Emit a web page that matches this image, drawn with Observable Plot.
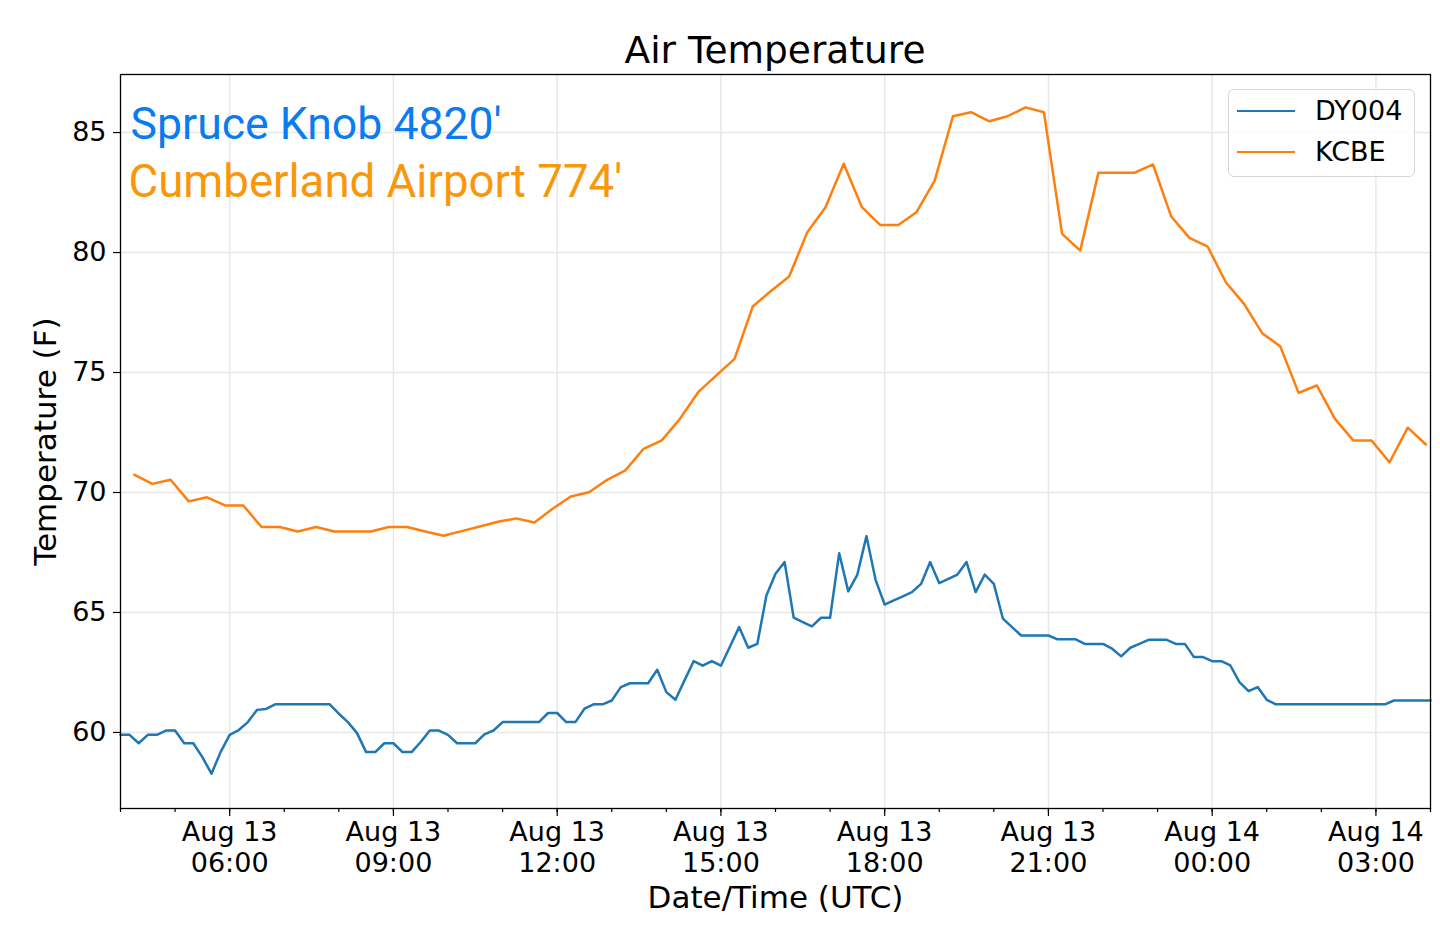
<!DOCTYPE html>
<html>
<head>
<meta charset="utf-8">
<script src="https://cdn.jsdelivr.net/npm/d3@7"></script>
<script src="https://cdn.jsdelivr.net/npm/@observablehq/plot@0.6"></script>
<style>
  html, body { margin: 0; padding: 0; background: #fff; }
  #wrap { position: relative; width: 1440px; height: 936px; overflow: hidden; }
  #title { position: absolute; z-index: 3; left: 120px; width: 1310px; top: 31px; text-align: center;
           font-family: "DejaVu Sans", sans-serif; font-size: 37.5px; line-height: 38px; color: #000; }
  #chart { position: absolute; z-index: 1; left: 0; top: 60px; }
  #legend { position: absolute; z-index: 2; left: 1228px; top: 89px; width: 187px; height: 88px; box-sizing: border-box;
            border: 1.5px solid #d6d6d6; border-radius: 6px; background: rgba(255,255,255,0.85);
            font-family: "DejaVu Sans", sans-serif; font-size: 27px; color: #000; }
  .row { position: absolute; left: 0; height: 30px; }
  .sw { position: absolute; left: 8px; width: 58px; height: 0; border-top: 2.5px solid; }
  .lab { position: absolute; left: 86px; line-height: 30px; white-space: nowrap; }
</style>
</head>
<body>
<div id="wrap">
  <div id="title"></div>
  <div id="chart"></div>
  <div id="legend"></div>
</div>
<script>
// ---- data ----
const chartTitle = "Air Temperature";
const xLabel = "Date/Time (UTC)";
const yLabel = "Temperature (F)";
const seriesNames = ["DY004", "KCBE"];
const seriesColors = ["#1f77b4", "#ff7f0e"];
const annotations = ["Spruce Knob 4820'", "Cumberland Airport 774'"];
const annotationColors = ["#0a7cf2", "#fa960a"];

// DY004: every 10 minutes from 2019-08-13 04:00 UTC
const dyStart = "2019-08-13T04:00:00Z";
const dyStepMinutes = 10;
const dyTemps = [
  59.9, 59.9, 59.55, 59.9, 59.9, 60.08,
  60.08, 59.55, 59.55, 58.97, 58.28, 59.18,
  59.9, 60.1, 60.43, 60.94, 60.98, 61.17,
  61.17, 61.17, 61.17, 61.17, 61.17, 61.17,
  60.78, 60.43, 59.97, 59.18, 59.18, 59.55,
  59.55, 59.18, 59.18, 59.6, 60.08, 60.08,
  59.9, 59.55, 59.55, 59.55, 59.92, 60.08,
  60.43, 60.43, 60.43, 60.43, 60.43, 60.81,
  60.81, 60.43, 60.43, 60.99, 61.17, 61.17,
  61.33, 61.89, 62.05, 62.05, 62.05, 62.61,
  61.68, 61.36, 62.17, 62.97, 62.78, 62.97,
  62.78, 63.58, 64.39, 63.53, 63.69, 65.71,
  66.61, 67.1, 64.78, 64.6, 64.42, 64.78,
  64.78, 67.47, 65.88, 66.58, 68.18, 66.36,
  65.33, 65.5, 65.67, 65.85, 66.19, 67.1,
  66.22, 66.4, 66.58, 67.1, 65.85, 66.58,
  66.19, 64.74, 64.39, 64.04, 64.04, 64.04,
  64.04, 63.88, 63.88, 63.88, 63.69, 63.69,
  63.69, 63.49, 63.17, 63.53, 63.69, 63.86,
  63.86, 63.86, 63.69, 63.69, 63.14, 63.14,
  62.97, 62.97, 62.79, 62.1, 61.72, 61.89,
  61.36, 61.17, 61.17, 61.17, 61.17, 61.17,
  61.17, 61.17, 61.17, 61.17, 61.17, 61.17,
  61.17, 61.17, 61.33, 61.33, 61.33, 61.33,
  61.33
];

// KCBE: every 20 minutes from 2019-08-13 04:15 UTC
const kcStart = "2019-08-13T04:15:00Z";
const kcStepMinutes = 20;
const kcTemps = [
  70.74, 70.36, 70.53,
  69.63, 69.8, 69.46,
  69.46, 68.56, 68.56,
  68.375, 68.56, 68.375,
  68.375, 68.375, 68.56,
  68.56, 68.375, 68.2,
  68.39, 68.58, 68.78,
  68.92, 68.75, 69.32,
  69.83, 70.01, 70.53,
  70.92, 71.82, 72.17,
  73.07, 74.18, 74.88,
  75.57, 77.75, 78.4,
  79.0, 80.85, 81.89,
  83.7, 81.89, 81.15,
  81.15, 81.68, 83.0,
  85.68, 85.85, 85.47,
  85.68, 86.05, 85.85,
  80.78, 80.08, 83.33,
  83.33, 83.33, 83.67,
  81.5, 80.61, 80.25,
  78.76, 77.86, 76.64,
  76.08, 74.15, 74.46,
  73.07, 72.17, 72.17,
  71.26, 72.7, 72.0
];

const xDomain = ["2019-08-13T04:00:00Z", "2019-08-14T04:00:00Z"];
const yDomain = [56.83, 87.42];
const yTicks = [60, 65, 70, 75, 80, 85];
const xTickTimes = ["2019-08-13T06:00:00Z", "2019-08-13T09:00:00Z", "2019-08-13T12:00:00Z", "2019-08-13T15:00:00Z",
                    "2019-08-13T18:00:00Z", "2019-08-13T21:00:00Z", "2019-08-14T00:00:00Z", "2019-08-14T03:00:00Z"];
const xTickLabels = ["Aug 13\n06:00", "Aug 13\n09:00", "Aug 13\n12:00", "Aug 13\n15:00",
                     "Aug 13\n18:00", "Aug 13\n21:00", "Aug 14\n00:00", "Aug 14\n03:00"];

// ---- build tables ----
const t0dy = new Date(dyStart).getTime();
const t0kc = new Date(kcStart).getTime();
const dyRows = dyTemps.map((v, i) => ({time: new Date(t0dy + i * dyStepMinutes * 60000), temp: v}));
const kcRows = kcTemps.map((v, i) => ({time: new Date(t0kc + i * kcStepMinutes * 60000), temp: v}));
const xMajor = xTickTimes.map(s => new Date(s));
const xDom = xDomain.map(s => new Date(s));
const xMinor = d3.utcHour.range(xDom[0], new Date(xDom[1].getTime() + 1));
const labelOf = new Map(xMajor.map((d, i) => [d.getTime(), xTickLabels[i]]));

document.getElementById("title").textContent = chartTitle;

const grid = {stroke: "#e8e8e8", strokeOpacity: 1, strokeWidth: 1.5};

const chart = Plot.plot({
  width: 1440,
  height: 876,
  marginLeft: 120,
  marginRight: 10,
  marginTop: 14,
  marginBottom: 128,
  style: {fontFamily: "DejaVu Sans, sans-serif", fontSize: "27px", color: "#000", background: "transparent"},
  x: {type: "utc", domain: xDom},
  y: {domain: yDomain},
  marks: [
    Plot.gridX(xMajor, grid),
    Plot.gridY(yTicks, grid),
    Plot.lineY(dyRows, {x: "time", y: "temp", stroke: seriesColors[0], strokeWidth: 2.5}),
    Plot.lineY(kcRows, {x: "time", y: "temp", stroke: seriesColors[1], strokeWidth: 2.5}),
    Plot.frame({stroke: "#000", strokeWidth: 1.3}),
    Plot.axisY(yTicks, {tickSize: 7, tickPadding: 7, fontSize: 27, label: null, stroke: "#000", strokeWidth: 1.2}),
    Plot.axisX(xMinor, {tickSize: 4, tickFormat: () => "", label: null, stroke: "#000", strokeWidth: 1.2}),
    Plot.axisX(xMajor, {tickSize: 8, tickPadding: 2, fontSize: 27, lineHeight: 1.15,
      tickFormat: d => labelOf.get(d.getTime()), label: null, stroke: "#000", strokeWidth: 1.2}),
    Plot.text([xLabel], {frameAnchor: "bottom", dy: 90, fontSize: 31, lineAnchor: "middle", fill: "#000"}),
    Plot.text([yLabel], {frameAnchor: "left", dx: -74, rotate: -90, textAnchor: "middle", fontSize: 31, lineAnchor: "middle", fill: "#000"}),
    Plot.text([annotations[0]], {frameAnchor: "top-left", dx: 10, dy: 64, textAnchor: "start", lineAnchor: "bottom",
      fontFamily: "Roboto", fontSize: 44.6, fill: annotationColors[0]}),
    Plot.text([annotations[1]], {frameAnchor: "top-left", dx: 8, dy: 122, textAnchor: "start", lineAnchor: "bottom",
      fontFamily: "Roboto", fontSize: 45.6, fill: annotationColors[1]})
  ]
});
document.getElementById("chart").appendChild(chart);

// legend
const legend = document.getElementById("legend");
seriesNames.forEach((name, i) => {
  const row = document.createElement("div");
  row.className = "row";
  row.style.top = (6 + i * 41) + "px";
  row.style.width = "100%";
  const sw = document.createElement("div");
  sw.className = "sw";
  sw.style.borderTopColor = seriesColors[i];
  sw.style.top = "14px";
  const lab = document.createElement("div");
  lab.className = "lab";
  lab.style.top = "0px";
  lab.textContent = name;
  row.appendChild(sw);
  row.appendChild(lab);
  legend.appendChild(row);
});
</script>
</body>
</html>
